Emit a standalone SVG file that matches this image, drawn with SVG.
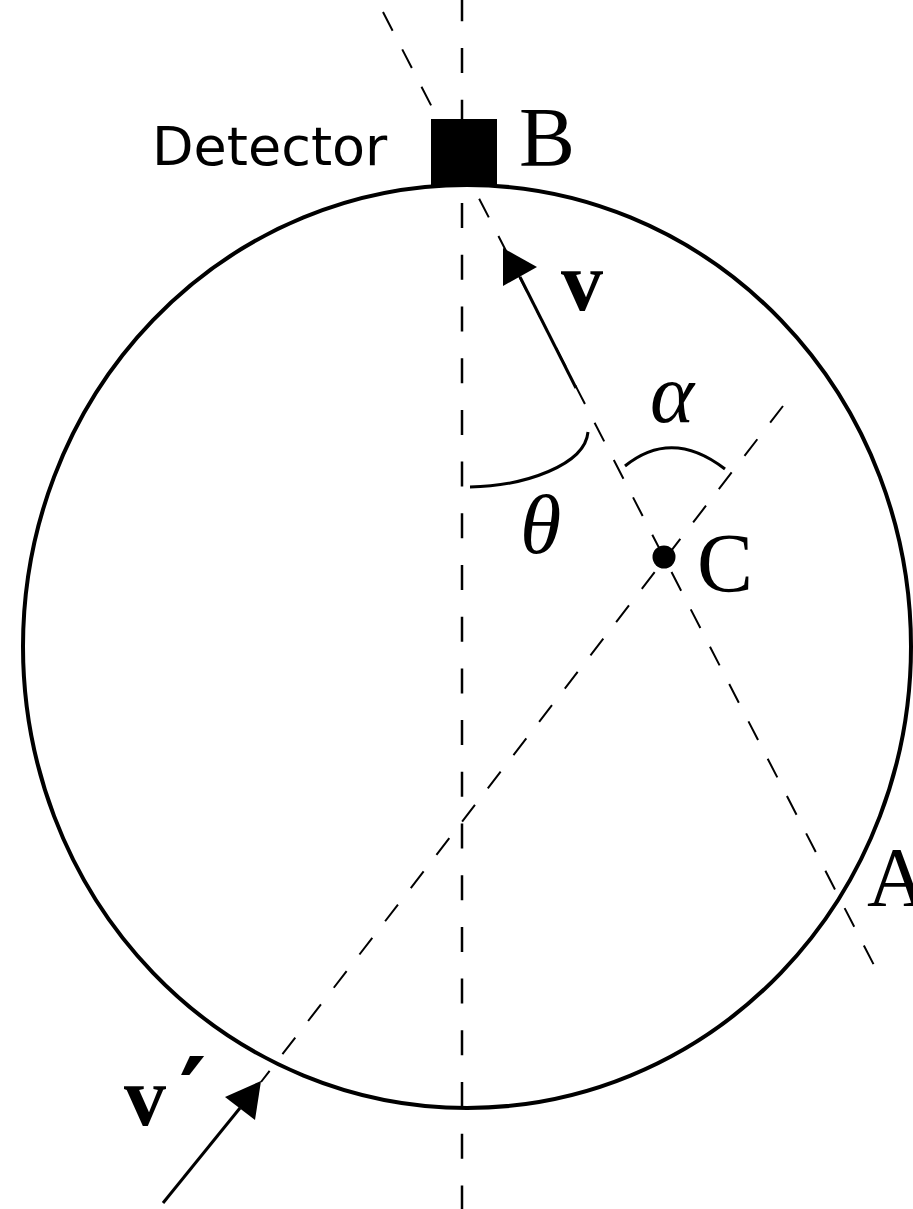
<svg xmlns="http://www.w3.org/2000/svg" width="913" height="1209" viewBox="0 0 913 1209">
<style>
.dashv{stroke:#000;stroke-width:2.5;fill:none;stroke-dasharray:25 26.7}
.dashd{stroke:#000;stroke-width:2;fill:none;stroke-dasharray:21 21}
.solid{stroke:#000;stroke-width:3;fill:none}
.serif{font-family:"Liberation Serif","Times New Roman",serif;font-size:84px;fill:#000}
.sans{font-family:"DejaVu Sans","Noto Sans",sans-serif;font-size:54px;fill:#000}
</style>
<rect width="913" height="1209" fill="#fff"/>
<g id="connectors">
  <line class="dashv" x1="462" y1="-3.7" x2="462" y2="1209"/>
  <line class="dashd" x1="383" y1="12" x2="876" y2="969"/>
  <line class="dashd" x1="783" y1="406" x2="261" y2="1082"/>
  <path class="solid" d="M470,487 C525,486 585,465 588,432"/>
  <path class="solid" d="M625,466 Q672,428 725,469"/>
</g>
<g id="circle">
  <ellipse cx="467" cy="646.5" rx="444" ry="461.5" fill="none" stroke="#000" stroke-width="4"/>
</g>
<g id="detector">
  <rect x="431" y="119" width="66" height="66" fill="#000"/>
  <text class="sans" x="152" y="165">Detector</text>
  <text class="serif" x="519" y="166">B</text>
</g>
<g id="v-arrow">
  <line class="solid" x1="576" y1="388" x2="520" y2="277"/>
  <polygon points="503,248 503,286 537,267" fill="#000"/>
  <text class="serif" x="561" y="310" font-weight="bold">v</text>
</g>
<g id="vprime-arrow">
  <line class="solid" x1="163" y1="1203" x2="240" y2="1108"/>
  <polygon points="261,1081 225,1097 255,1120" fill="#000"/>
  <text class="serif" x="124" y="1125" font-weight="bold">v</text>
  <text x="179" y="1132" style="font-family:'DejaVu Serif',serif;font-size:105px;font-weight:bold">′</text>
</g>
<g id="point-C">
  <circle cx="664" cy="557" r="11.5" fill="#000"/>
  <text class="serif" x="697" y="592">C</text>
</g>
<g id="point-A">
  <text class="serif" x="867" y="906">A</text>
</g>
<g id="angles">
  <text class="serif" x="650" y="422" font-style="italic">α</text>
  <text class="serif" x="520" y="553" font-style="italic" font-size="88">θ</text>
</g>
</svg>
